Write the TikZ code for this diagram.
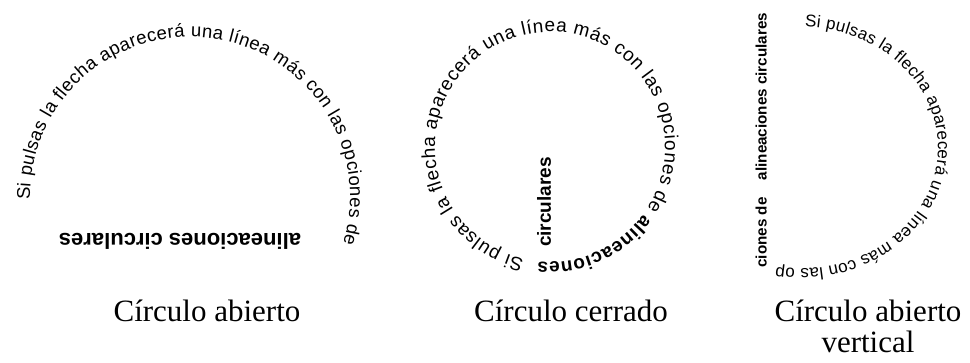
\documentclass[tikz,border=0pt]{standalone}
\usepackage{fontspec}
\setmainfont{Liberation Serif}
\setsansfont{Liberation Sans}
\usepackage{tikz}
\usetikzlibrary{decorations.text}
\newcommand{\captionfont}{\rmfamily\fontsize{31}{31}\selectfont}
\newcommand{\arcfont}[1]{\sffamily\fontsize{#1}{#1}\selectfont}
\newcommand{\flatfont}[1]{\sffamily\bfseries\fontsize{#1}{#1}\selectfont}
\tikzstyle{caption} = [font=\captionfont, inner sep=0pt, align=center]
\tikzstyle{flat} = [inner sep=0pt, text depth=0pt]
\tikzstyle{curved} = [decorate, decoration={text along path,
    text align=fit to path}]

\begin{document}
\begin{tikzpicture}[x=1pt, y=1pt]
 \useasboundingbox (0,0) rectangle (970,363);
 % Place centres
   \coordinate (ring1) at (190,166);
   \coordinate (ring2) at (550,216);
   \coordinate (ring3) at (800,215);

 % Curved text
   \path [curved, decoration={text={|\arcfont{18.5}|Si pulsas la flecha aparecerá una línea más con las opciones de}}]
   ([shift={(181:160pt)}]ring1) arc[start angle=181, end angle=-17, radius=160pt];
   \path [curved, decoration={text={|\arcfont{19}|Si pulsas la flecha aparecerá una línea más con las opciones de |\flatfont{19}|alineaciones}}]
   ([shift={(257:115pt)}]ring2) arc[start angle=257, end angle=-96, radius=115pt];
   \path [curved, decoration={text={|\arcfont{17}|Si pulsas la flecha aparecerá una línea más con las op}}]
   ([shift={(88:138pt and 121pt)}]ring3) arc[start angle=88, end angle=-100, x radius=138pt, y radius=121pt];

 % Flat text
   \node [flat, rotate=180, font=\flatfont{22}] (flat1) at (180,122) {alineaciones circulares};
   \node [flat, rotate=90, font=\flatfont{19}] (flat2) at (544,161) {circulares};
   \node [flat, rotate=90, font=\flatfont{15.2}] (flat3) at (761,266.5) {alineaciones circulares};
   \node [flat, rotate=90, font=\flatfont{15.2}] (flat4) at (761,130.5) {ciones de};

 % Captions
   \node [caption, anchor=base] (open) at (207,41) {Círculo abierto};
   \node [caption, anchor=base] (closed) at (571,41) {Círculo cerrado};
   \node [caption, anchor=base] (openv) at (868,10) {Círculo abierto\\vertical};
\end{tikzpicture}
\end{document}
